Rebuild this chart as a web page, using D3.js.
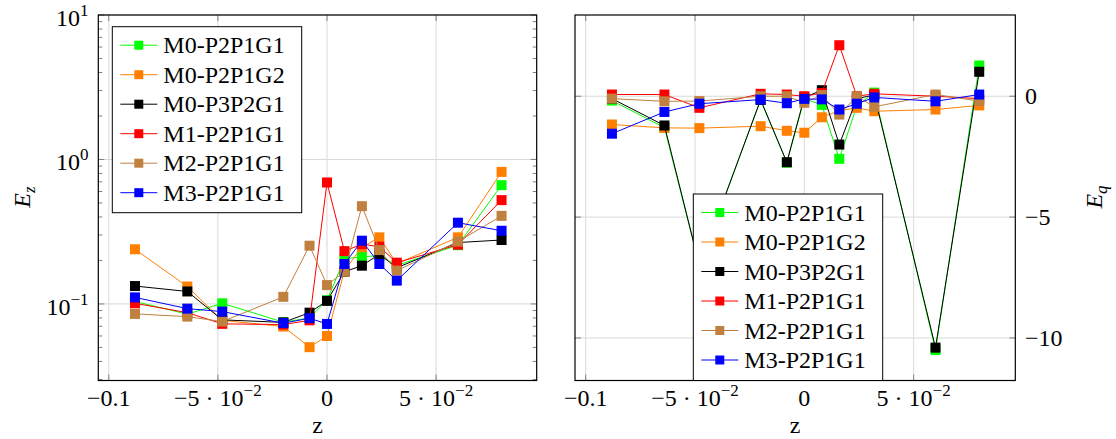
<!DOCTYPE html>
<html><head><meta charset="utf-8">
<script src="https://cdn.jsdelivr.net/npm/d3@7/dist/d3.min.js"></script>
<style>body{margin:0;background:#fff}svg{display:block}</style>
</head><body>
<svg id="c" width="1116" height="439"></svg>
<script>
// ---------- data ----------
const zValues = [-0.088, -0.064, -0.048, -0.02, -0.008, 0, 0.008, 0.016, 0.024, 0.032, 0.06, 0.08];
const seriesNames = ["M0-P2P1G1", "M0-P2P1G2", "M0-P3P2G1", "M1-P2P1G1", "M2-P2P1G1", "M3-P2P1G1"];
const seriesColors = ["#00ff00", "#ff8000", "#000000", "#ff0000", "#bf8040", "#0000ff"];

const ezM0P2P1G1 = [0.104, 0.085, 0.101, 0.0748, 0.080, 0.106, 0.205, 0.212, 0.216, 0.185, 0.255, 0.664];
const ezM0P2P1G2 = [0.239, 0.132, 0.077, 0.0697, 0.0502, 0.060, 0.170, 0.247, 0.289, 0.190, 0.289, 0.820];
const ezM0P3P2G1 = [0.133, 0.122, 0.0776, 0.0745, 0.087, 0.105, 0.167, 0.184, 0.221, 0.178, 0.266, 0.277];
const ezM1P2P1G1 = [0.101, 0.087, 0.0728, 0.072, 0.077, 0.693, 0.232, 0.259, 0.249, 0.193, 0.257, 0.523];
const ezM2P2P1G1 = [0.0853, 0.0817, 0.0755, 0.112, 0.253, 0.135, 0.167, 0.475, 0.236, 0.170, 0.270, 0.407];
const ezM3P2P1G1 = [0.111, 0.0928, 0.0885, 0.0736, 0.0796, 0.0727, 0.189, 0.274, 0.189, 0.145, 0.365, 0.321];

const eqM0P2P1G1 = [-0.18, -1.30, -7.0, -0.15, -2.75, -0.10, -0.36, -2.59, -0.40, 0.15, -10.5, 1.27];
const eqM0P2P1G2 = [-1.17, -1.31, -1.32, -1.24, -1.43, -1.51, -0.87, -0.60, -0.48, -0.62, -0.55, -0.38];
const eqM0P3P2G1 = [-0.10, -1.21, -7.0, -0.15, -2.73, -0.05, 0.25, -2.00, -0.10, 0.05, -10.4, 1.01];
const eqM1P2P1G1 = [0.07, 0.07, -0.48, 0.10, 0.07, 0.00, 0.13, 2.11, 0.00, 0.10, 0.00, -0.10];
const eqM2P2P1G1 = [-0.10, -0.21, -0.20, 0.00, 0.00, -0.27, 0.05, -0.76, 0.00, -0.44, 0.07, -0.20];
const eqM3P2P1G1 = [-1.55, -0.65, -0.31, -0.14, -0.29, -0.11, -0.13, -0.55, -0.31, -0.05, -0.21, 0.07];

const xTickValues = [-0.1, -0.05, 0, 0.05];
const xTickLabels = [["−0.1", ""], ["−5 · 10", "−2"], ["0", ""], ["5 · 10", "−2"]];
const ezTickValues = [0.1, 1, 10];
const ezTickLabels = [["10", "−1"], ["10", "0"], ["10", "1"]];
const eqTickValues = [0, -5, -10];
const eqTickLabels = ["0", "−5", "−10"];

const ezSeries = [ezM0P2P1G1, ezM0P2P1G2, ezM0P3P2G1, ezM1P2P1G1, ezM2P2P1G1, ezM3P2P1G1];
const eqSeries = [eqM0P2P1G1, eqM0P2P1G2, eqM0P3P2G1, eqM1P2P1G1, eqM2P2P1G1, eqM3P2P1G1];

// ---------- layout ----------
const FONT = "'Liberation Serif', 'Times New Roman', serif";
const svg = d3.select("#c");
const L = {x0: 98.3, x1: 536.7, y0: 15, y1: 380.5};
const R = {x0: 575, x1: 1015.3, y0: 15, y1: 380.5};
const gridColor = "#d9d9d9";
const tickColor = "#808080";

const xL = d3.scaleLinear().domain([-0.1048, 0.0961]).range([L.x0, L.x1]);
const xR = d3.scaleLinear().domain([-0.1049, 0.0965]).range([R.x0, R.x1]);
const yL = d3.scaleLog().domain([Math.pow(10, -1.53), 10]).range([L.y1, L.y0]);
const yR = d3.scaleLinear().domain([-11.76, 3.36]).range([R.y1, R.y0]);

function panel(F, x, y, yMajor, yMinor) {
  const g = svg.append("g");
  // grid
  g.selectAll(".gx").data(xTickValues).join("line")
    .attr("x1", d => x(d)).attr("x2", d => x(d)).attr("y1", F.y0).attr("y2", F.y1)
    .attr("stroke", gridColor).attr("stroke-width", 1);
  g.selectAll(".gy").data(yMajor).join("line")
    .attr("x1", F.x0).attr("x2", F.x1).attr("y1", d => y(d)).attr("y2", d => y(d))
    .attr("stroke", gridColor).attr("stroke-width", 1);
  // ticks
  const tk = g.append("g").attr("stroke", tickColor).attr("stroke-width", 1);
  xTickValues.forEach(v => {
    tk.append("line").attr("x1", x(v)).attr("x2", x(v)).attr("y1", F.y1).attr("y2", F.y1 - 6);
    tk.append("line").attr("x1", x(v)).attr("x2", x(v)).attr("y1", F.y0).attr("y2", F.y0 + 6);
  });
  yMajor.forEach(v => {
    tk.append("line").attr("x1", F.x0).attr("x2", F.x0 + 6).attr("y1", y(v)).attr("y2", y(v));
    tk.append("line").attr("x1", F.x1).attr("x2", F.x1 - 6).attr("y1", y(v)).attr("y2", y(v));
  });
  yMinor.forEach(v => {
    tk.append("line").attr("x1", F.x0).attr("x2", F.x0 + 4).attr("y1", y(v)).attr("y2", y(v));
    tk.append("line").attr("x1", F.x1).attr("x2", F.x1 - 4).attr("y1", y(v)).attr("y2", y(v));
  });
  return g;
}

function drawSeries(g, x, y, series) {
  series.forEach((vals, i) => {
    const pts = zValues.map((z, j) => [z, vals[j]]);
    const line = d3.line().x(d => x(d[0])).y(d => y(d[1]));
    g.append("path").attr("d", line(pts)).attr("fill", "none")
      .attr("stroke", seriesColors[i]).attr("stroke-width", 1);
    g.selectAll(null).data(pts).join("rect")
      .attr("x", d => x(d[0]) - 5).attr("y", d => y(d[1]) - 5)
      .attr("width", 10).attr("height", 10).attr("fill", seriesColors[i]);
  });
}

function frame(F) {
  svg.append("rect").attr("x", F.x0).attr("y", F.y0).attr("width", F.x1 - F.x0).attr("height", F.y1 - F.y0)
    .attr("fill", "none").attr("stroke", "#000").attr("stroke-width", 1.2);
}

function legend(lx, ly, w, h) {
  const g = svg.append("g");
  g.append("rect").attr("x", lx).attr("y", ly).attr("width", w).attr("height", h)
    .attr("fill", "#fff").attr("stroke", "#000").attr("stroke-width", 1);
  seriesNames.forEach((n, i) => {
    const cy = ly + 18.5 + i * 29.5;
    g.append("line").attr("x1", lx + 8).attr("x2", lx + 45).attr("y1", cy).attr("y2", cy)
      .attr("stroke", seriesColors[i]).attr("stroke-width", 1);
    g.append("rect").attr("x", lx + 26.5 - 4.5).attr("y", cy - 4.5).attr("width", 9).attr("height", 9)
      .attr("fill", seriesColors[i]);
    g.append("text").attr("x", lx + 51).attr("y", cy + 8).attr("font-family", FONT)
      .attr("font-size", 24).attr("fill", "#000").text(n);
  });
}

function xLabels(x, F) {
  xTickValues.forEach((v, i) => {
    const t = svg.append("text").attr("x", x(v)).attr("y", F.y1 + 25.5).attr("text-anchor", "middle")
      .attr("font-family", FONT).attr("font-size", 24).attr("fill", "#000");
    t.append("tspan").text(xTickLabels[i][0]);
    if (xTickLabels[i][1]) t.append("tspan").attr("dy", -10).attr("font-size", 17).text(xTickLabels[i][1]);
  });
  svg.append("text").attr("x", (F.x0 + F.x1) / 2).attr("y", F.y1 + 52).attr("text-anchor", "middle")
    .attr("font-family", FONT).attr("font-size", 24).attr("fill", "#000").text("z");
}

// ---------- left panel ----------
const minorL = [];
[0.01, 0.1, 1].forEach(d => { for (let k = 2; k <= 9; k++) { const v = d * k; if (v >= Math.pow(10, -1.53) && v <= 10) minorL.push(v); } });
const gL = panel(L, xL, yL, ezTickValues, minorL);
drawSeries(gL, xL, yL, ezSeries);
frame(L);
legend(112.3, 26.7, 189.4, 186);
xLabels(xL, L);
ezTickValues.forEach((v, i) => {
  const t = svg.append("text").attr("x", 88.5).attr("y", yL(v) + 11).attr("text-anchor", "end")
    .attr("font-family", FONT).attr("font-size", 24).attr("fill", "#000");
  t.append("tspan").text(ezTickLabels[i][0]);
  t.append("tspan").attr("dy", -10).attr("font-size", 17).text(ezTickLabels[i][1]);
});
{
  const t = svg.append("text").attr("transform", "translate(30,197) rotate(-90)").attr("text-anchor", "middle")
    .attr("font-family", FONT).attr("font-size", 24).attr("font-style", "italic").attr("fill", "#000");
  t.append("tspan").text("E");
  t.append("tspan").attr("dy", 5).attr("font-size", 17).text("z");
}

// ---------- right panel ----------
const gR = panel(R, xR, yR, eqTickValues, []);
drawSeries(gR, xR, yR, eqSeries);
frame(R);
legend(693.3, 194, 189.4, 186.5);
xLabels(xR, R);
eqTickValues.forEach((v, i) => {
  svg.append("text").attr("x", 1025).attr("y", yR(v) + 8).attr("text-anchor", "start")
    .attr("font-family", FONT).attr("font-size", 24).attr("fill", "#000").text(eqTickLabels[i]);
});
{
  const t = svg.append("text").attr("transform", "translate(1102,197) rotate(-90)").attr("text-anchor", "middle")
    .attr("font-family", FONT).attr("font-size", 24).attr("font-style", "italic").attr("fill", "#000");
  t.append("tspan").text("E");
  t.append("tspan").attr("dy", 5).attr("font-size", 17).text("q");
}
</script>
</body></html>
